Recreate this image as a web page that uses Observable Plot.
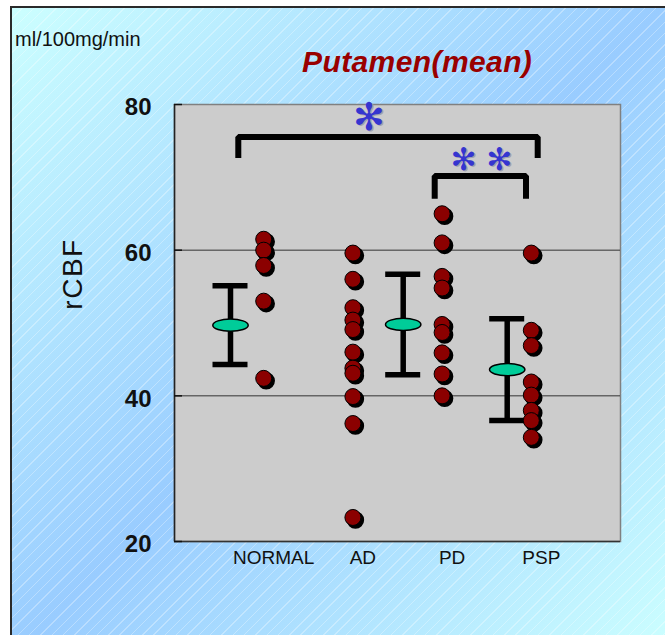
<!DOCTYPE html>
<html>
<head>
<meta charset="utf-8">
<script src="https://cdn.jsdelivr.net/npm/d3@7"></script>
<script src="https://cdn.jsdelivr.net/npm/@observablehq/plot@0.6"></script>
<style>
  body { margin: 0; background: #fff; }
  #page { position: relative; width: 665px; height: 635px; overflow: hidden; background: #fff;
          font-family: "Liberation Sans", Arial, sans-serif; }
  #bg { position: absolute; left: 10px; top: 6px; width: 660px; height: 640px;
        border-left: 2px solid #2a2a2a; border-top: 2px solid #2a2a2a;
        background:
          repeating-linear-gradient(135deg, rgba(255,255,255,0) 0px, rgba(255,255,255,0) 7px,
                                    rgba(255,255,255,0.3) 7px, rgba(255,255,255,0.3) 8px),
          linear-gradient(135deg, #ccffff 0%, #99ccff 50%, #ccffff 100%); }
  #unit { position: absolute; left: 15px; top: 28px; font-size: 20px; color: #111; white-space: nowrap; }
  #title { position: absolute; left: 302px; top: 47px; font-size: 30px; font-style: italic; font-weight: bold;
           letter-spacing: 0.4px; color: #990000; white-space: nowrap; line-height: 1; }
  #ylab { position: absolute; left: 73px; top: 274px; font-size: 28px; color: #111; white-space: nowrap;
          transform: translate(-50%, -50%) rotate(-90deg); letter-spacing: 1.5px; line-height: 1; }
  #chart { position: absolute; left: 0; top: 0; }
</style>
</head>
<body>
<div id="page">
  <div id="bg"></div>
  <div id="unit">ml/100mg/min</div>
  <div id="title">Putamen(mean)</div>
  <div id="ylab">rCBF</div>
  <div id="chart"></div>
</div>
<script>
// ---- data ----
const groups = ["NORMAL", "AD", "PD", "PSP"];
const normalValues = [61.5, 60.0, 57.9, 53.0, 42.4];
const adValues = [59.6, 56.0, 52.1, 50.4, 49.1, 46.0, 43.8, 43.1, 39.9, 36.2, 23.3];
const pdValues = [65.0, 61.0, 56.4, 54.8, 49.8, 48.7, 45.9, 43.0, 40.0];
const pspValues = [59.6, 49.0, 46.9, 41.9, 40.1, 38.0, 36.6, 34.3];
const summaryGroups = ["NORMAL", "PD", "PSP"];
const summaryMeans = [49.7, 49.8, 43.6];
const summarySD = [5.4, 6.9, 7.0];
const yTicks = [20, 40, 60, 80];
const gridValues = [40, 60];
const compFrom = ["NORMAL", "PD"];
const compTo = ["PSP", "PSP"];
const compMarks = ["✻", "✻ ✻"];

// ---- layout (pixels / styles) ----
const L = {
  width: 665, height: 635, mL: 174, mR: 45, mT: 104, mB: 94,
  xDomain: [-1, 4], yDomain: [20, 80],
  barShift: {NORMAL: -33.2, PD: -38.9, PSP: -24.1},
  capHalf: 17.5,
  bracketTop: [75.55, 70.2], bracketLeg: [72.65, 67.05],
  bracketInset: [[-25.4, 6.4], [-7.4, -5.3]],
  markShift: [-19, 1.3], markY: [78.2, 72.4], markSize: [38, 31]
};
const step = (L.width - L.mL - L.mR) / (L.xDomain[1] - L.xDomain[0]);
const px = p => p / step;

const series = [normalValues, adValues, pdValues, pspValues];
const points = groups.flatMap((g, i) => series[i].map(v => ({group: g, i, v})));
const summary = summaryGroups.map((g, k) => {
  const i = groups.indexOf(g);
  return {group: g, x: i + px(L.barShift[g]), mean: summaryMeans[k], lo: summaryMeans[k] - summarySD[k], hi: summaryMeans[k] + summarySD[k]};
});
const caps = summary.flatMap(d => [{x: d.x, y: d.lo}, {x: d.x, y: d.hi}]);
const brackets = compFrom.flatMap((a, k) => {
  const xa = groups.indexOf(a) + px(L.bracketInset[k][0]);
  const xb = groups.indexOf(compTo[k]) + px(L.bracketInset[k][1]);
  return [
    {id: k, x: xa, y: L.bracketLeg[k]}, {id: k, x: xa, y: L.bracketTop[k]},
    {id: k, x: xb, y: L.bracketTop[k]}, {id: k, x: xb, y: L.bracketLeg[k]}
  ];
});
const marks = compFrom.map((a, k) => ({
  x: (groups.indexOf(a) + px(L.bracketInset[k][0]) + groups.indexOf(compTo[k]) + px(L.bracketInset[k][1])) / 2 + px(L.markShift[k]),
  y: L.markY[k], label: compMarks[k], size: L.markSize[k]
}));

const ellipse = {
  draw(ctx, size) {
    const r = Math.sqrt(size / Math.PI), rx = r * 2.9, ry = r, k = 0.5523;
    ctx.moveTo(rx, 0);
    ctx.bezierCurveTo(rx, ry * k, rx * k, ry, 0, ry);
    ctx.bezierCurveTo(-rx * k, ry, -rx, ry * k, -rx, 0);
    ctx.bezierCurveTo(-rx, -ry * k, -rx * k, -ry, 0, -ry);
    ctx.bezierCurveTo(rx * k, -ry, rx, -ry * k, rx, 0);
    ctx.closePath();
  }
};

const chart = Plot.plot({
  width: L.width, height: L.height,
  marginLeft: L.mL, marginRight: L.mR, marginTop: L.mT, marginBottom: L.mB,
  style: {background: "transparent", fontFamily: "'Liberation Sans', Arial, sans-serif", color: "#111", overflow: "visible"},
  x: {type: "linear", domain: L.xDomain, axis: null},
  y: {domain: L.yDomain, axis: null},
  marks: [
    Plot.frame({fill: "#cccccc", stroke: "#808080", strokeWidth: 1.5}),
    Plot.ruleY(gridValues, {stroke: "#333", strokeWidth: 1}),
    Plot.ruleX([L.xDomain[0]], {stroke: "#222", strokeWidth: 1.5}),
    Plot.ruleY([L.yDomain[0]], {stroke: "#333", strokeWidth: 1.5}),
    Plot.ruleY(yTicks, {x1: L.xDomain[0], x2: L.xDomain[0] + px(8), stroke: "#111", strokeWidth: 1.5}),
    Plot.axisY(yTicks, {anchor: "left", tickSize: 0, tickPadding: 23, fontSize: 24, fontWeight: "bold", dy: 3, label: null}),
    Plot.axisX([0, 1, 2, 3], {anchor: "bottom", tickSize: 0, tickPadding: 9, fontSize: 19, dx: 10, tickFormat: i => groups[i], label: null}),
    Plot.line(brackets, {x: "x", y: "y", z: "id", stroke: "black", strokeWidth: 6, strokeLinejoin: "miter", strokeLinecap: "butt"}),
    Plot.text(marks, {x: "x", y: "y", text: "label", fontSize: d => d.size, fill: "#a0a0b0", dx: 1.5, dy: 1.5, fontFamily: "DejaVu Sans"}),
    Plot.text(marks, {x: "x", y: "y", text: "label", fontSize: d => d.size, fill: "#3535d0", fontFamily: "DejaVu Sans"}),
    Plot.ruleX(summary, {x: "x", y1: "lo", y2: "hi", stroke: "black", strokeWidth: 5.5}),
    Plot.ruleY(caps, {y: "y", x1: d => d.x - px(L.capHalf), x2: d => d.x + px(L.capHalf), stroke: "black", strokeWidth: 5.5}),
    Plot.dot(summary, {x: "x", y: "mean", r: 6.1, symbol: ellipse, fill: "#00cc99", stroke: "black", strokeWidth: 1.5}),
    Plot.dot(points, {x: "i", y: "v", r: 8, fill: "black", stroke: "black", dx: 2.5, dy: 2.5}),
    Plot.dot(points, {x: "i", y: "v", r: 8, fill: "#8b0000", stroke: "black", strokeWidth: 1})
  ]
});
document.getElementById("chart").appendChild(chart);
</script>
</body>
</html>
